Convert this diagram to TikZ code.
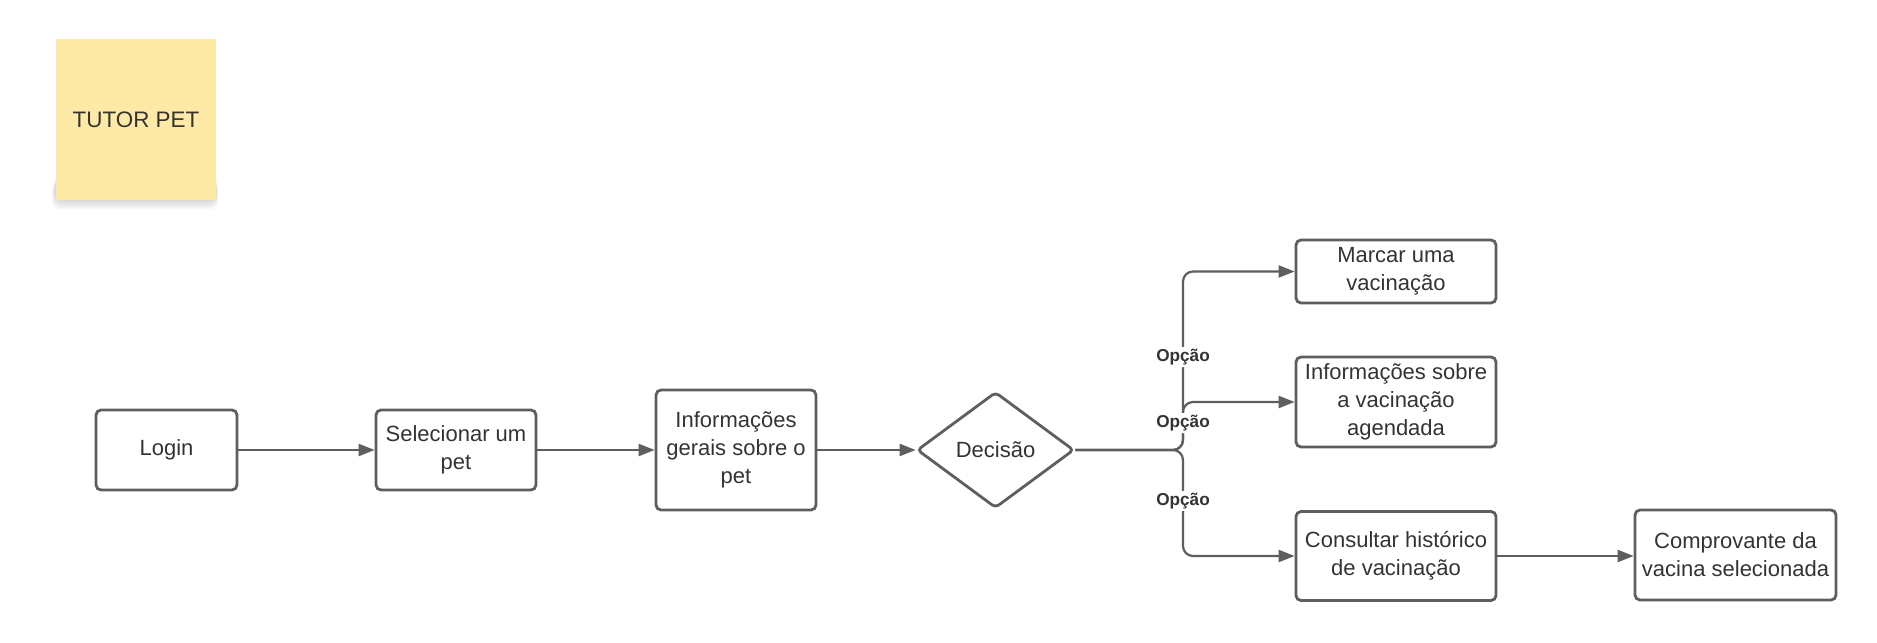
\documentclass[tikz,border=0pt]{standalone}
\usepackage{fontspec}
\setmainfont{Liberation Sans}
\usetikzlibrary{arrows.meta,shapes.geometric}

\definecolor{linegray}{HTML}{5E5E5E}
\definecolor{textgray}{HTML}{333333}
\definecolor{stickyyellow}{HTML}{FEE9A6}

\tikzset{
  box/.style={draw=linegray, line width=1.4pt, rounded corners=2.5pt, align=center,
    text=textgray, inner sep=2pt, font=\fontsize{11}{14}\selectfont},
  flow/.style={draw=linegray, line width=1.1pt, -{Triangle[length=8pt,width=6pt]}},
  opcao/.style={fill=white, text=textgray, inner sep=1pt,
    font=\fontsize{8.6}{10}\selectfont\bfseries},
}

\begin{document}
\begin{tikzpicture}[x=0.5pt,y=-0.5pt]
    \useasboundingbox (0,0) rectangle (1877,642);
    % sticky note
    \foreach \d in {1,...,7}
      \fill[black, opacity=0.022, rounded corners=4pt] (56-\d*0.6,170+\d*2) rectangle (216+\d*0.3,199+1.5*\d);
    \node[fill=stickyyellow, minimum width=80pt, minimum height=80pt, text=textgray,
      font=\fontsize{11.2}{13}\selectfont] (tutor) at (136,119.5) {TUTOR PET};
    % main line
    \node[box, minimum width=70.5pt, minimum height=40pt] (login) at (166.5,450) {Login};
    \node[box, minimum width=80pt, minimum height=40pt] (sel) at (456,450) {Selecionar um\\pet};
    \node[box, minimum width=80pt, minimum height=60pt] (info) at (736,450) {Informações\\gerais sobre o\\pet};
    \node[box, diamond, rounded corners=2pt, minimum width=78.5pt, minimum height=58pt, inner sep=0pt] (dec) at (995.5,450) {Decisão};
    % options
    \node[box, minimum width=100pt, minimum height=31.5pt] (marcar) at (1396,271.5) {Marcar uma\\vacinação};
    \node[box, minimum width=100pt, minimum height=45pt] (agenda) at (1396,402) {Informações sobre\\a vacinação\\agendada};
    \node[box, minimum width=100pt, minimum height=44.5pt] (hist) at (1396,556) {Consultar histórico\\de vacinação};
    \node[box, minimum width=100.5pt, minimum height=45pt] (comp) at (1735.5,555) {Comprovante da\\vacina selecionada};
    \coordinate (split) at (1183,450);

    \draw[flow] (login) -- (sel);
    \draw[flow] (sel) -- (info);
    \draw[flow] (info) -- (dec);
    \draw[flow, rounded corners=5pt] (dec.east) -- (split) |- node[opcao, pos=0.26] (op1) {Opção} (marcar.west);
    \draw[flow, rounded corners=5pt] (dec.east) -- (split) |- node[opcao, pos=0.28] (op2) {Opção} (agenda.west);
    \draw[flow, rounded corners=5pt] (dec.east) -- (split) |- node[opcao, pos=0.24] (op3) {Opção} (hist.west);
    \draw[flow] (hist.east) -- (comp.west |- hist.east);
\end{tikzpicture}
\end{document}
